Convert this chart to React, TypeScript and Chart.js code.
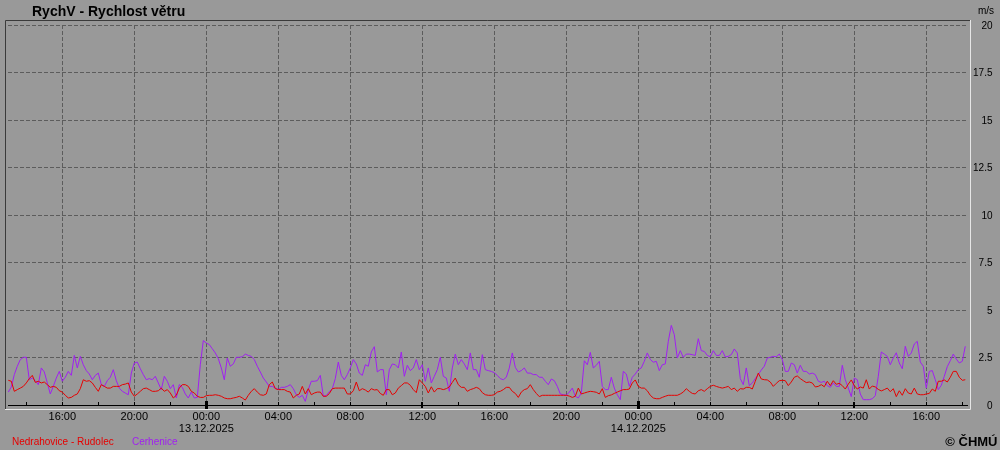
import React, { useEffect, useRef } from "react";
import { Chart, registerables } from "chart.js";

Chart.register(...registerables);

// time axis: hours counted from 12.12.2025 00:00
const START_HOUR = 13; // first sample 12.12.2025 13:00
const STEP_MINUTES = 10;
const X_MIN = 12.983;
const X_MAX = 66.206;

const seriesNames = ["Nedrahovice - Rudolec", "Cerhenice"];

const nedrahovice = [
  1.3, 1.25, 0.72, 0.81, 0.89, 0.98, 1.16, 1.39, 1.56, 1.19,
  1.25, 1.16, 1.21, 1.07, 0.93, 0.98, 0.93, 0.75, 0.68, 0.51,
  0.37, 0.4, 0.51, 0.58, 0.86, 1.33, 1.25, 1.28, 1.16, 0.93,
  0.72, 1.07, 0.98, 0.89, 0.89, 0.98, 0.98, 0.98, 1.07, 1.1,
  1.16, 0.68, 0.46, 0.58, 0.72, 0.86, 0.89, 0.81, 0.72, 0.72,
  0.75, 0.89, 0.72, 0.81, 0.63, 0.37, 0.51, 0.89, 1.07, 1.07,
  0.98, 0.72, 0.63, 0.46, 0.4, 0.4, 0.49, 0.51, 0.51, 0.54,
  0.51, 0.46, 0.37, 0.33, 0.33, 0.37, 0.4, 0.46, 0.37, 0.26,
  0.51, 0.72, 0.86, 0.68, 0.54, 0.51, 0.58, 1.07, 1.21, 0.86,
  0.81, 0.81, 0.81, 0.72, 0.68, 0.37, 0.51, 0.58, 0.98, 0.58,
  0.86, 0.54, 0.63, 0.68, 0.68, 0.46, 0.46, 0.6, 0.86, 0.89,
  0.89, 0.89, 0.89, 0.58, 0.58, 0.75, 1.21, 0.75, 0.86, 0.79,
  0.68, 0.86, 0.79, 0.81, 0.61, 0.51, 0.81, 0.81, 0.54, 0.63,
  0.89, 1.02, 1.16, 1.16, 1.04, 0.81, 0.65, 1.33, 1.16, 0.98,
  0.63, 0.96, 0.68, 0.86, 0.86, 0.81, 0.86, 0.95, 1.19, 1.42,
  1.07, 0.93, 0.93, 0.72, 0.81, 0.86, 0.93, 0.86, 0.65, 0.54,
  0.51, 0.51, 0.54, 0.68, 0.72, 0.81, 0.93, 0.93, 0.72, 0.61,
  0.4, 0.68, 0.81, 0.86, 1.07, 0.81, 0.61, 0.44, 0.51, 0.51,
  0.51, 0.51, 0.51, 0.51, 0.51, 0.51, 0.51, 0.47, 0.4, 0.46,
  0.89, 0.58, 0.63, 0.68, 0.72, 0.7, 0.67, 0.58, 0.86, 0.4,
  0.49, 0.53, 0.61, 0.68, 0.75, 0.81, 0.81, 0.84, 1.16, 1.32,
  0.98, 0.89, 0.89, 0.75, 0.51, 0.37, 0.33, 0.33, 0.4, 0.46,
  0.51, 0.51, 0.51, 0.51, 0.58, 0.68, 0.86, 0.72, 0.61, 0.58,
  0.75, 0.81, 0.72, 0.86, 0.98, 1.04, 0.98, 0.93, 0.89, 0.93,
  0.98, 0.81, 0.89, 0.72, 0.86, 0.84, 0.93, 0.93, 0.84, 1.25,
  1.68, 1.37, 1.33, 1.32, 1.21, 0.98, 1.14, 1.28, 1.3, 1.28,
  1.02, 1.21, 1.46, 1.53, 1.39, 1.28, 1.18, 1.21, 1.16, 0.95,
  0.98, 1.07, 0.96, 1.25, 1.02, 1.28, 1.09, 1.14, 1.02, 0.84,
  1.1, 1.32, 1.02, 0.84, 0.95, 0.89, 1.33, 0.84, 1.0, 0.95,
  0.82, 0.74, 0.81, 0.89, 0.7, 0.86, 0.44, 0.75, 0.51, 0.86,
  0.63, 0.58, 0.89, 0.58, 0.54, 0.54, 0.58, 0.61, 0.84, 0.72,
  1.25, 1.25, 1.32, 1.21, 1.46, 1.77, 1.77, 1.46, 1.3, 1.33,
];

const cerhenice = [
  0.68, 0.95, 1.6, 2.04, 2.39, 2.51, 2.51, 1.33, 1.42, 1.28,
  1.07, 1.95, 1.74, 1.16, 0.58, 0.98, 1.42, 1.77, 1.25, 1.46,
  1.77, 1.56, 2.61, 1.95, 2.56, 2.12, 1.81, 1.63, 1.33, 1.56,
  1.68, 1.07, 0.98, 1.28, 1.46, 1.86, 1.28, 0.89, 0.72, 0.63,
  0.54, 1.68, 2.21, 2.26, 1.91, 1.6, 1.33, 1.39, 1.33, 1.51,
  1.16, 0.81, 1.51, 1.25, 0.86, 1.07, 0.37, 1.07, 0.93, 0.58,
  0.37, 0.68, 0.37, 0.4, 2.12, 3.39, 3.26, 3.18, 2.96, 2.74,
  2.44, 1.95, 1.33, 2.47, 2.04, 2.16, 2.51, 2.51, 2.54, 2.68,
  2.61, 2.56, 2.39, 2.04, 1.74, 1.42, 1.21, 0.98, 0.98, 0.89,
  0.81, 0.93, 0.93, 0.98, 1.07, 0.86, 0.54, 0.4, 0.51, 0.19,
  0.81, 1.25, 1.25, 1.28, 1.56, 0.46, 0.5, 0.7, 0.86, 1.39,
  2.26, 1.56, 1.33, 1.6, 1.95, 2.39, 2.16, 1.68, 1.56, 2.12,
  2.04, 2.79, 3.07, 1.74, 1.86, 1.86, 0.54, 1.86, 2.16, 2.12,
  1.95, 2.79, 1.51, 2.09, 1.81, 1.95, 2.39, 1.86, 2.12, 1.25,
  1.95, 1.16, 1.51, 1.86, 2.51, 1.51, 1.42, 0.72, 1.95, 2.68,
  2.12, 2.39, 2.16, 1.86, 2.74, 1.86, 1.86, 1.46, 2.65, 1.86,
  1.81, 1.77, 1.7, 1.56, 1.39, 1.33, 1.46, 1.95, 2.74, 1.98,
  1.74, 1.81, 1.95, 1.68, 1.68, 1.6, 1.6, 1.46, 1.46, 1.25,
  1.07, 1.37, 1.28, 0.98, 0.58, 0.54, 0.51, 0.68, 0.89, 0.46,
  0.37, 0.63, 2.33, 2.12, 2.77, 1.95, 2.09, 2.3, 0.98, 0.81,
  0.81, 1.46, 0.89, 0.54, 0.28, 1.77, 1.63, 0.98, 1.46, 1.63,
  1.86, 1.95, 2.3, 2.74, 2.4, 2.25, 2.3, 1.81, 2.12, 2.16,
  3.35, 4.19, 3.7, 2.47, 2.86, 2.51, 2.68, 2.68, 2.65, 2.61,
  3.49, 2.86, 2.82, 2.61, 2.54, 2.86, 2.61, 2.61, 2.86, 2.53,
  2.56, 2.65, 2.95, 2.74, 1.39, 1.07, 1.95, 1.02, 1.16, 1.39,
  1.6, 1.84, 2.04, 2.47, 2.51, 2.56, 2.54, 2.68, 2.39, 1.77,
  1.77, 2.21, 2.12, 1.68, 2.09, 1.77, 1.77, 1.63, 1.68, 1.6,
  1.25, 1.19, 1.25, 1.02, 0.93, 1.16, 0.98, 0.98, 2.09, 1.33,
  0.89, 0.44, 1.42, 1.33, 0.58, 0.28, 0.28, 0.28, 0.33, 0.49,
  1.51, 2.79, 2.68, 2.56, 2.12, 2.47, 2.75, 2.21, 1.91, 3.09,
  2.56, 2.74, 3.21, 3.35, 2.26, 2.04, 0.89, 1.77, 1.81, 1.33,
  0.81, 1.04, 1.51, 2.02, 2.33, 2.68, 2.42, 2.21, 2.3, 3.09,
];

const yTickValues = [0, 2.5, 5, 7.5, 10, 12.5, 15, 17.5, 20];
const yTickLabels = ["0", "2.5", "5", "7.5", "10", "12.5", "15", "17.5", "20"];

const xTickHours = [14, 16, 18, 20, 22, 24, 26, 28, 30, 32, 34, 36, 38, 40, 42, 44, 46, 48, 50, 52, 54, 56, 58, 60, 62, 64, 66];
const xLabelHours = [16, 20, 24, 28, 32, 36, 40, 44, 48, 52, 56, 60, 64];
const xLabelTimes = ["16:00", "20:00", "00:00", "04:00", "08:00", "12:00", "16:00", "20:00", "00:00", "04:00", "08:00", "12:00", "16:00"];
const xLabelDates = ["", "", "13.12.2025", "", "", "", "", "", "14.12.2025", "", "", "", ""];
const noonHours = [36, 60];
const midnightHours = [24, 48];

const TITLE = "RychV - Rychlost větru";
const UNIT = "m/s";
const COPYRIGHT = "© ČHMÚ";

const RED = "rgb(230,0,0)";
const PURPLE = "rgb(160,32,240)";
const BG = "#999999";
const GRID = "#5c5c5c";
const FONT = "'Liberation Sans', Arial, sans-serif";

const toPoints = (vals: number[]) =>
  vals.map((v, i) => ({ x: START_HOUR + (i * STEP_MINUTES) / 60, y: v }));

const decorPlugin = {
  id: "decor",
  beforeDatasetsDraw(chart: any) {
    const ctx = chart.ctx as CanvasRenderingContext2D;
    const area = chart.chartArea;
    const xs = chart.scales.x;
    const ys = chart.scales.y;
    ctx.save();
    // sunken frame
    ctx.lineWidth = 1;
    ctx.strokeStyle = "#3a3a3a";
    ctx.beginPath();
    ctx.moveTo(5.5, 410);
    ctx.lineTo(5.5, 20.5);
    ctx.lineTo(970, 20.5);
    ctx.stroke();
    ctx.strokeStyle = "#e6e6e6";
    ctx.beginPath();
    ctx.moveTo(970.5, 20);
    ctx.lineTo(970.5, 409.5);
    ctx.lineTo(5, 409.5);
    ctx.stroke();
    // x axis line
    const y0 = Math.round(ys.getPixelForValue(0)) + 0.5;
    ctx.strokeStyle = "#000";
    ctx.beginPath();
    ctx.moveTo(area.left, y0);
    ctx.lineTo(area.right + 2, y0);
    ctx.stroke();
    // ticks
    ctx.fillStyle = "#000";
    xTickHours.forEach((h) => {
      const px = Math.round(xs.getPixelForValue(h));
      if (midnightHours.includes(h)) {
        ctx.fillRect(px - 1, 401, 3, 8);
      } else if (noonHours.includes(h)) {
        ctx.fillRect(px - 1, 402, 2, 6);
      } else {
        ctx.fillRect(px, 402, 1, 4);
      }
    });
    ctx.restore();
  },
  afterDraw(chart: any) {
    const ctx = chart.ctx as CanvasRenderingContext2D;
    const xs = chart.scales.x;
    const ys = chart.scales.y;
    ctx.save();
    // title
    ctx.fillStyle = "#000";
    ctx.font = `bold 14px ${FONT}`;
    ctx.textAlign = "left";
    ctx.textBaseline = "alphabetic";
    ctx.fillText(TITLE, 32, 16);
    // unit
    ctx.font = `10px ${FONT}`;
    ctx.textAlign = "right";
    ctx.fillText(UNIT, 994, 14);
    // y labels
    ctx.textBaseline = "middle";
    yTickValues.forEach((v, i) => {
      ctx.fillText(yTickLabels[i], 992.5, ys.getPixelForValue(v) + 1);
    });
    // x labels
    ctx.font = `11px ${FONT}`;
    ctx.textAlign = "center";
    ctx.textBaseline = "alphabetic";
    xLabelHours.forEach((h, i) => {
      const px = xs.getPixelForValue(h);
      ctx.fillText(xLabelTimes[i], px, 420);
      if (xLabelDates[i]) ctx.fillText(xLabelDates[i], px, 431.5);
    });
    // legend
    ctx.font = `10px ${FONT}`;
    ctx.textAlign = "left";
    ctx.fillStyle = RED;
    ctx.fillText(seriesNames[0], 12, 445);
    ctx.fillStyle = PURPLE;
    ctx.fillText(seriesNames[1], 132, 445);
    // copyright
    ctx.fillStyle = "#000";
    ctx.font = `bold 13px ${FONT}`;
    ctx.textAlign = "right";
    ctx.fillText(COPYRIGHT, 997.5, 445.5);
    ctx.restore();
  },
};

export default function App() {
  const ref = useRef<HTMLCanvasElement | null>(null);
  useEffect(() => {
    if (!ref.current) return;
    const chart = new Chart(ref.current, {
      type: "line",
      data: {
        datasets: [
          {
            label: seriesNames[0],
            data: toPoints(nedrahovice),
            borderColor: RED,
            backgroundColor: RED,
            borderWidth: 1,
            pointRadius: 0,
            tension: 0,
            fill: false,
          },
          {
            label: seriesNames[1],
            data: toPoints(cerhenice),
            borderColor: PURPLE,
            backgroundColor: PURPLE,
            borderWidth: 1,
            pointRadius: 0,
            tension: 0,
            fill: false,
          },
        ],
      },
      options: {
        responsive: false,
        animation: false,
        layout: { padding: { left: 8, top: 25, right: 34, bottom: 45 } },
        plugins: {
          legend: { display: false },
          tooltip: { enabled: false },
          title: { display: false },
        },
        scales: {
          x: {
            type: "linear",
            position: "bottom",
            min: X_MIN,
            max: X_MAX,
            afterBuildTicks: (s: any) => {
              s.ticks = xTickHours.map((v) => ({ value: v }));
            },
            afterFit: (s: any) => {
              s.height = 0;
            },
            ticks: { display: false },
            grid: {
              drawTicks: false,
              lineWidth: 1,
              color: (c: any) =>
                c.tick && c.tick.value % 4 === 0 ? GRID : "rgba(0,0,0,0)",
            },
            border: { display: false, dash: [4, 2] },
          },
          y: {
            type: "linear",
            position: "right",
            min: 0,
            max: 20,
            afterBuildTicks: (s: any) => {
              s.ticks = yTickValues.map((v) => ({ value: v }));
            },
            afterFit: (s: any) => {
              s.width = 0;
            },
            ticks: { display: false },
            grid: {
              drawTicks: false,
              lineWidth: 1,
              color: (c: any) =>
                c.tick && c.tick.value > 0 ? GRID : "rgba(0,0,0,0)",
            },
            border: { display: false, dash: [4, 2] },
          },
        },
      } as any,
      plugins: [decorPlugin],
    });
    return () => chart.destroy();
  }, []);
  return (
    <div
      style={{
        position: "absolute",
        left: 0,
        top: 0,
        width: 1000,
        height: 450,
        background: BG,
      }}
    >
      <canvas ref={ref} width={1000} height={450} style={{ display: "block" }} />
    </div>
  );
}
